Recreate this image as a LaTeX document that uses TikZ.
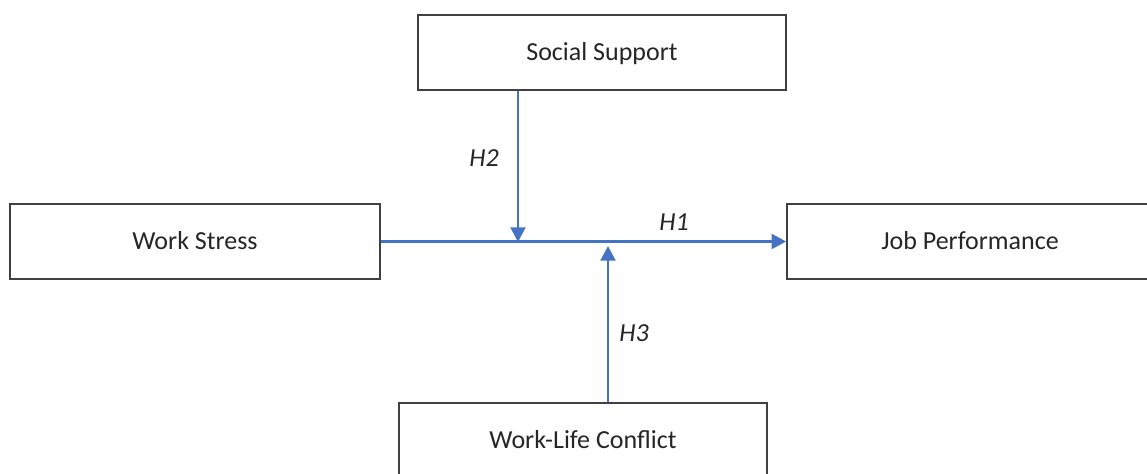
\documentclass[tikz,border=0pt]{standalone}
\usepackage{fontspec}
\setmainfont{Carlito}
\usetikzlibrary{arrows.meta}
\definecolor{linkblue}{HTML}{4472C4}
\definecolor{boxline}{HTML}{404040}
\begin{document}
\begin{tikzpicture}[x=0.75pt,y=-0.75pt,
  box/.style={draw=boxline,line width=1.1pt,fill=white,minimum width=276pt,minimum height=56pt,inner sep=0pt,text height=12.5pt,text depth=0pt,text=black!85,font=\fontsize{19.5}{23}\selectfont},
  link/.style={draw=linkblue,line width=2.2pt,-{Triangle[length=11pt,width=11pt]}},
  hyp/.style={font=\fontsize{19.5}{23}\selectfont\itshape,text=black!85}]
\useasboundingbox (0,0) rectangle (1147,474);
\node[box] (ss) at (602,52.5) {Social Support};
\node[box,minimum width=277.5pt] (ws) at (195,241.5) {Work Stress};
\node[box,minimum width=274.5pt] (jp) at (970,241.5) {Job Performance};
\node[box] (wlc) at (583,440.5) {Work-Life Conflict};
\coordinate (m1) at (518,242);
\coordinate (m2) at (608,246);
\draw[link] (ws.east) -- (jp.west);
\draw[link] (ss.south -| m1) -- (m1);
\draw[link] (wlc.north -| m2) -- (m2);
\node[hyp] (h2) at (484,158) {H2};
\node[hyp] (h1) at (674,222) {H1};
\node[hyp] (h3) at (634,333) {H3};
\end{tikzpicture}
\end{document}
